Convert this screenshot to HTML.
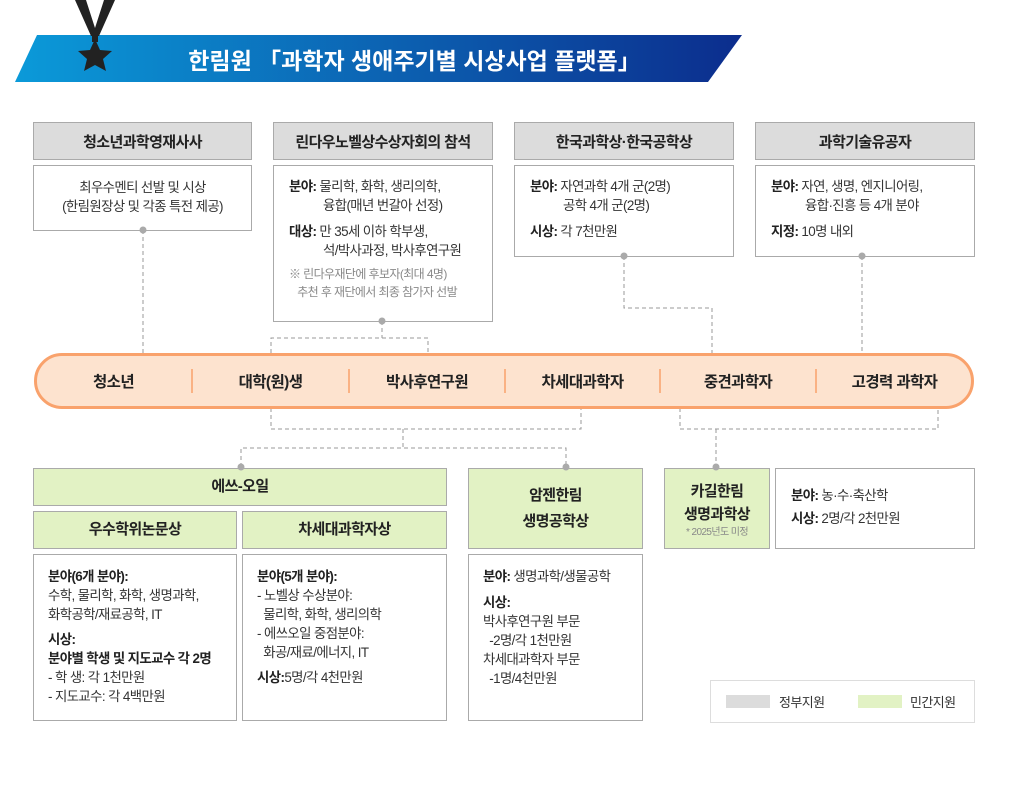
<!DOCTYPE html>
<html><head><meta charset="utf-8"><style>
*{margin:0;padding:0;box-sizing:border-box}
body{width:1014px;height:792px;background:#fff;position:relative;overflow:hidden;font-family:"Liberation Sans","Noto Sans CJK KR",sans-serif;color:#222;letter-spacing:-0.6px}
.a{position:absolute}
.hd{position:absolute;background:#dcdcdc;border:1px solid #aaa;display:flex;align-items:center;justify-content:center;font-size:15px;font-weight:bold;color:#222}
.gr{position:absolute;background:#e2f2c4;border:1px solid #aaa;display:flex;flex-direction:column;align-items:center;justify-content:center;font-size:15px;font-weight:bold;text-align:center;line-height:26px}
.bx{position:absolute;background:#fff;border:1px solid #aaa;font-size:13.4px;line-height:19px;color:#333}
b{color:#222}
.seg{position:absolute;top:353px;height:55px;display:flex;align-items:center;justify-content:center;font-size:15.5px;font-weight:bold;color:#222}
</style></head><body>
<svg class="a" style="left:0;top:0" width="1014" height="792">
<defs><linearGradient id="g" x1="0" x2="1"><stop offset="0" stop-color="#0b9ad9"/><stop offset="1" stop-color="#0c2d8d"/></linearGradient></defs>
<polygon points="37,35 742,35 708,82 15,82" fill="url(#g)"/>
<polygon points="75,0 86,0 95,28 104,0 115,0 99,36 91,36" fill="#222"/>
<rect x="92" y="34" width="6" height="8" fill="#222"/>
<polygon points="95,39 100,50 112,51 103,59 106,71 95,65 84,71 87,59 78,51 90,50" fill="#222"/>
<g stroke="#999" stroke-dasharray="4,3" fill="none" stroke-width="1">
<path d="M143 230V353"/>
<path d="M382 321V338M271 353V338H428V353"/>
<path d="M624 256V308H712V353"/>
<path d="M862 256V353"/>
<path d="M271 408V429H581V408"/>
<path d="M403 429V448M241 467V448H566V467"/>
<path d="M680 408V429H938V408"/>
<path d="M716 429V467"/>
</g>
<rect x="35.5" y="354.5" width="937" height="53" rx="26.5" fill="#fde3cf" stroke="#f9a26c" stroke-width="3"/>
<g stroke="#f9a26c" stroke-width="1.5"><path d="M192 369V393M349 369V393M505 369V393M660 369V393M816 369V393"/></g>
</svg>
<div class="a" style="left:37px;top:35px;width:705px;height:47px;display:flex;align-items:center;justify-content:center;color:#fff;font-size:23px;font-weight:bold;padding-left:50px;letter-spacing:0px">한림원 「과학자 생애주기별 시상사업 플랫폼」</div>

<div class="hd" style="left:33px;top:122px;width:219px;height:38px">청소년과학영재사사</div>
<div class="hd" style="left:273px;top:122px;width:220px;height:38px">린다우노벨상수상자회의 참석</div>
<div class="hd" style="left:514px;top:122px;width:220px;height:38px">한국과학상·한국공학상</div>
<div class="hd" style="left:755px;top:122px;width:220px;height:38px">과학기술유공자</div>

<div class="bx" style="left:33px;top:165px;width:219px;height:66px;text-align:center;padding-top:12px">최우수멘티 선발 및 시상<br>(한림원장상 및 각종 특전 제공)</div>
<div class="bx" style="left:273px;top:165px;width:220px;height:157px;padding:11px 0 0 15px"><b>분야:</b> 물리학, 화학, 생리의학,<br><span style="padding-left:34px">융합(매년 번갈아 선정)</span><div style="height:7px"></div><b>대상:</b> 만 35세 이하 학부생,<br><span style="padding-left:34px">석/박사과정, 박사후연구원</span><div style="font-size:12px;color:#888;line-height:18px;margin-top:5px">※ 린다우재단에 후보자(최대 4명)<br>&nbsp;&nbsp;&nbsp;추천 후 재단에서 최종 참가자 선발</div></div>
<div class="bx" style="left:514px;top:165px;width:220px;height:92px;padding:11px 0 0 15px"><b>분야:</b> 자연과학 4개 군(2명)<br><span style="padding-left:33px">공학 4개 군(2명)</span><div style="height:7px"></div><b>시상:</b> 각 7천만원</div>
<div class="bx" style="left:755px;top:165px;width:220px;height:92px;padding:11px 0 0 15px"><b>분야:</b> 자연, 생명, 엔지니어링,<br><span style="padding-left:34px">융합·진흥 등 4개 분야</span><div style="height:7px"></div><b>지정:</b> 10명 내외</div>

<div class="seg" style="left:35px;width:157px">청소년</div>
<div class="seg" style="left:192px;width:157px">대학(원)생</div>
<div class="seg" style="left:349px;width:156px">박사후연구원</div>
<div class="seg" style="left:505px;width:155px">차세대과학자</div>
<div class="seg" style="left:660px;width:156px">중견과학자</div>
<div class="seg" style="left:816px;width:157px">고경력 과학자</div>

<div class="gr" style="left:33px;top:468px;width:414px;height:38px">에쓰-오일</div>
<div class="gr" style="left:33px;top:511px;width:204px;height:38px">우수학위논문상</div>
<div class="gr" style="left:242px;top:511px;width:205px;height:38px">차세대과학자상</div>
<div class="gr" style="left:468px;top:468px;width:175px;height:81px">암젠한림<br>생명공학상</div>
<div class="gr" style="left:664px;top:468px;width:106px;height:81px;line-height:23px;padding-top:2px">카길한림<br>생명과학상<span style="font-size:10px;font-weight:normal;color:#888;line-height:14px">* 2025년도 미정</span></div>
<div class="bx" style="left:775px;top:468px;width:200px;height:81px;padding:15px 0 0 15px;line-height:23px"><b>분야:</b> 농·수·축산학<br><b>시상:</b> 2명/각 2천만원</div>

<div class="bx" style="left:33px;top:554px;width:204px;height:167px;padding:12px 0 0 14px"><b>분야(6개 분야):</b><br>수학, 물리학, 화학, 생명과학,<br>화학공학/재료공학, IT<div style="height:6px"></div><b>시상:</b><br><b>분야별 학생 및 지도교수 각 2명</b><br>- 학 생: 각 1천만원<br>- 지도교수: 각 4백만원</div>
<div class="bx" style="left:242px;top:554px;width:205px;height:167px;padding:12px 0 0 14px"><b>분야(5개 분야):</b><br>- 노벨상 수상분야:<br>&nbsp;&nbsp;물리학, 화학, 생리의학<br>- 에쓰오일 중점분야:<br>&nbsp;&nbsp;화공/재료/에너지, IT<div style="height:6px"></div><b>시상:</b>5명/각 4천만원</div>
<div class="bx" style="left:468px;top:554px;width:175px;height:167px;padding:12px 0 0 14px"><b>분야:</b> 생명과학/생물공학<div style="height:7px"></div><b>시상:</b><br>박사후연구원 부문<br>&nbsp;&nbsp;-2명/각 1천만원<br>차세대과학자 부문<br>&nbsp;&nbsp;-1명/4천만원</div>

<div class="a" style="left:710px;top:680px;width:265px;height:43px;border:1px solid #ddd"></div>
<div class="a" style="left:726px;top:695px;width:44px;height:13px;background:#dcdcdc"></div>
<div class="a" style="left:779px;top:692px;font-size:13px;color:#333">정부지원</div>
<div class="a" style="left:858px;top:695px;width:44px;height:13px;background:#e2f2c4"></div>
<div class="a" style="left:910px;top:692px;font-size:13px;color:#333">민간지원</div>

<svg class="a" style="left:0;top:0" width="1014" height="792">
<g fill="#aaa"><circle cx="143" cy="230" r="3.5"/><circle cx="382" cy="321" r="3.5"/><circle cx="624" cy="256" r="3.5"/><circle cx="862" cy="256" r="3.5"/><circle cx="241" cy="467" r="3.5"/><circle cx="566" cy="467" r="3.5"/><circle cx="716" cy="467" r="3.5"/></g>
</svg>
</body></html>
